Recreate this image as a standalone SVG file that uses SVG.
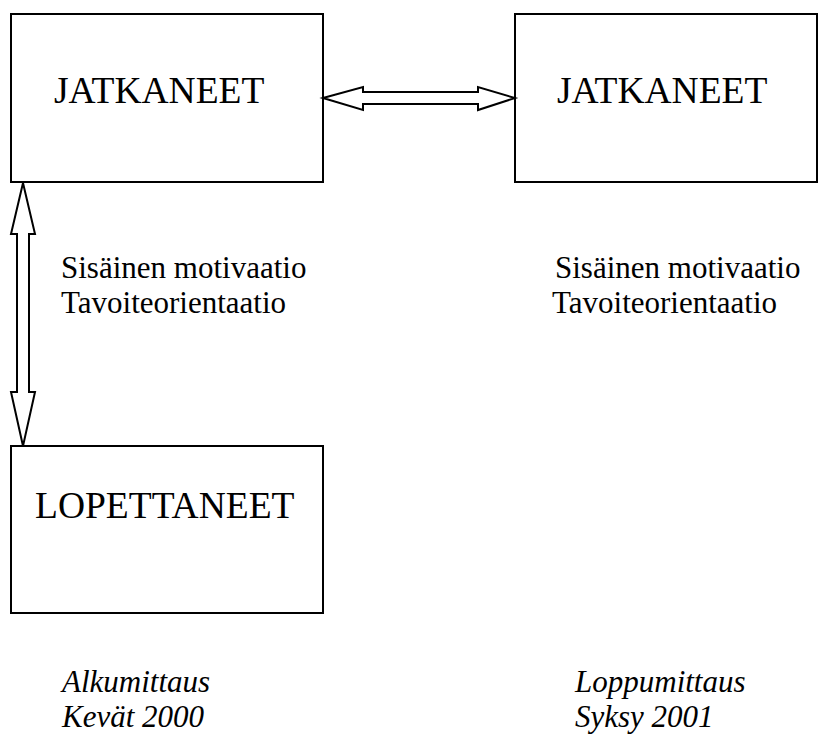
<svg xmlns="http://www.w3.org/2000/svg" width="818" height="736" viewBox="0 0 818 736">
<style>
.box{fill:#fff;stroke:#000;stroke-width:2}
.arr{fill:#fff;stroke:#000;stroke-width:2;stroke-linejoin:miter}
.big{font-family:"Liberation Serif","Times New Roman",serif;font-size:37.5px;fill:#000}
.mid{font-family:"Liberation Serif","Times New Roman",serif;font-size:31px;fill:#000}
.it{font-family:"Liberation Serif","Times New Roman",serif;font-size:31px;font-style:italic;fill:#000}
</style>
<rect width="818" height="736" fill="#fff"/>
<g id="jatkaneet1">
<rect class="box" x="11" y="14" width="312" height="168"/>
<text class="big" x="54" y="103">JATKANEET</text>
</g>
<g id="jatkaneet2">
<rect class="box" x="515" y="14" width="302" height="168"/>
<text class="big" x="557" y="103">JATKANEET</text>
</g>
<g id="lopettaneet">
<rect class="box" x="11" y="446" width="312" height="167"/>
<text class="big" x="35" y="518">LOPETTANEET</text>
</g>
<g id="connectors">
<polygon class="arr" points="323,98 363,87 363,92 478,92 478,87 515,98 478,110 478,104 363,104 363,110"/>
<polygon class="arr" points="23,183 35,234 29,234 29,392 35,392 23,446 11,392 17,392 17,234 11,234"/>
</g>
<g id="labels">
<text class="mid" x="61" y="278">Sisäinen motivaatio</text>
<text class="mid" x="61" y="313">Tavoiteorientaatio</text>
<text class="mid" x="555" y="278">Sisäinen motivaatio</text>
<text class="mid" x="552" y="313">Tavoiteorientaatio</text>
<text class="it" x="62" y="692">Alkumittaus</text>
<text class="it" x="62" y="727">Kevät 2000</text>
<text class="it" x="575" y="692">Loppumittaus</text>
<text class="it" x="575" y="727">Syksy 2001</text>
</g>
</svg>
